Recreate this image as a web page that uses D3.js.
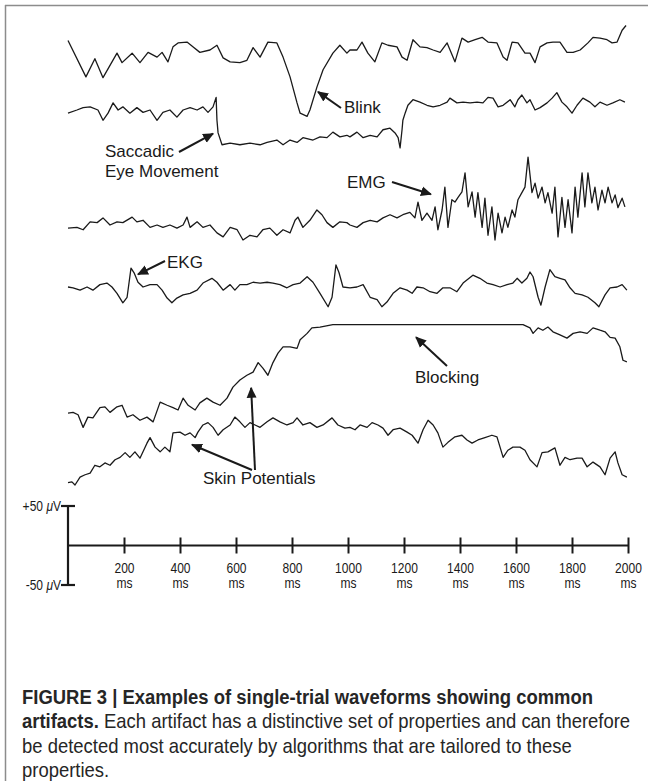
<!DOCTYPE html>
<html><head><meta charset="utf-8">
<script src="https://cdn.jsdelivr.net/npm/d3@7"></script>
<style>body{margin:0;background:#fff} svg{display:block}</style>
</head><body>
<svg id="chart" width="648" height="781"></svg>
<script>
// ---- data: [time in ms, amplitude in µV relative to each trace's own baseline] ----
const blinkTrace = [[0,12],[64,-34],[96,-11],[125,-35],[175,-4],[193,-16],[229,-4],[257,-16],[286,-3],[318,-9],[336,-3],[357,-15],[375,4],[393,9],[425,10],[446,4],[471,-3],[507,0],[532,6],[554,-10],[579,-15],[614,-16],[639,-13],[661,3],[686,-9],[714,10],[746,9],[768,-9],[793,-34],[818,-67],[829,-80],[854,-84],[864,-76],[889,-47],[911,-25],[946,-4],[971,6],[996,-4],[1007,0],[1032,0],[1050,10],[1071,-4],[1096,-15],[1121,9],[1143,6],[1175,4],[1193,-9],[1211,-13],[1232,13],[1257,4],[1282,3],[1304,0],[1329,-3],[1354,9],[1382,-15],[1407,15],[1429,10],[1454,13],[1479,16],[1500,10],[1532,9],[1554,-9],[1568,-13],[1586,10],[1607,9],[1632,-4],[1650,-4],[1668,-16],[1686,4],[1711,9],[1732,10],[1757,10],[1782,-3],[1804,-3],[1829,0],[1857,9],[1875,16],[1900,15],[1925,13],[1943,9],[1961,10],[1979,25],[1993,31]];

const saccadeTrace = [[0,-4],[32,0],[54,3],[79,4],[107,0],[125,-13],[143,-4],[161,9],[179,0],[196,4],[221,-4],[246,3],[268,-3],[293,0],[318,-13],[339,-3],[364,0],[389,-9],[411,0],[436,3],[461,0],[482,4],[500,-3],[518,4],[529,16],[532,-13],[536,-29],[550,-44],[579,-42],[614,-44],[650,-42],[686,-44],[711,-41],[746,-38],[768,-44],[793,-38],[818,-41],[839,-35],[875,-38],[900,-34],[925,-35],[946,-28],[971,-34],[996,-32],[1007,-34],[1032,-28],[1054,-35],[1079,-32],[1104,-34],[1125,-25],[1150,-23],[1168,-29],[1179,-35],[1186,-48],[1193,-25],[1196,-13],[1204,-4],[1214,6],[1232,13],[1257,10],[1282,6],[1304,4],[1329,6],[1354,10],[1364,15],[1389,9],[1411,10],[1436,9],[1461,10],[1482,9],[1500,16],[1518,15],[1536,4],[1554,6],[1579,13],[1596,4],[1607,13],[1621,19],[1639,9],[1650,13],[1668,0],[1686,3],[1711,9],[1729,15],[1746,22],[1764,10],[1782,4],[1800,-4],[1818,6],[1839,15],[1864,10],[1882,4],[1900,10],[1925,6],[1946,9],[1971,13],[1989,10]];

const emgTrace = [[0,-4],[32,-3],[54,-6],[79,4],[104,3],[125,9],[150,0],[175,4],[196,3],[229,10],[246,4],[268,6],[293,-3],[318,0],[339,-3],[364,0],[389,-4],[411,0],[425,10],[436,-3],[461,4],[482,-3],[507,0],[532,-10],[554,-15],[579,-3],[604,-6],[625,-19],[650,-13],[675,-15],[696,-6],[721,-4],[746,-13],[768,-6],[793,-10],[811,6],[821,10],[839,-3],[864,6],[889,19],[907,13],[925,3],[946,-3],[971,4],[996,3],[1007,0],[1032,-3],[1054,3],[1079,6],[1104,4],[1125,9],[1150,13],[1175,9],[1196,13],[1221,16],[1239,9],[1250,29],[1264,6],[1282,15],[1300,6],[1311,23],[1321,-6],[1336,19],[1346,48],[1357,-3],[1371,32],[1382,29],[1393,35],[1407,42],[1418,66],[1429,23],[1443,42],[1454,10],[1464,41],[1479,-3],[1489,34],[1500,-13],[1514,23],[1525,-19],[1536,15],[1550,-10],[1561,10],[1571,-3],[1586,19],[1596,10],[1607,32],[1621,41],[1632,48],[1643,86],[1657,41],[1668,53],[1679,34],[1693,48],[1704,28],[1714,41],[1729,15],[1739,48],[1750,-15],[1764,35],[1775,-3],[1786,32],[1800,-10],[1811,48],[1821,10],[1836,66],[1846,23],[1857,66],[1871,28],[1882,48],[1893,19],[1907,44],[1918,28],[1929,48],[1943,28],[1954,38],[1964,22],[1979,34],[1989,23]];

const ekgTrace = [[0,0],[18,-1],[43,-4],[68,0],[89,-4],[114,3],[139,5],[157,0],[175,-8],[196,-20],[211,-13],[225,24],[236,18],[250,6],[268,0],[293,3],[318,3],[336,-4],[354,-14],[371,-20],[389,-14],[411,-10],[436,-8],[461,-4],[482,5],[514,11],[532,6],[554,-4],[579,3],[596,-4],[614,3],[639,3],[661,6],[686,5],[711,6],[732,5],[757,3],[782,-1],[804,3],[829,5],[854,13],[875,6],[900,-8],[929,-25],[943,-13],[957,28],[968,18],[982,0],[1007,-1],[1032,0],[1054,3],[1079,-13],[1104,-16],[1121,-25],[1139,-19],[1161,-8],[1186,-1],[1211,-4],[1229,-8],[1246,0],[1268,-1],[1293,-6],[1318,-8],[1339,-1],[1364,-1],[1389,-6],[1411,5],[1446,15],[1471,11],[1496,5],[1518,3],[1543,0],[1568,3],[1589,5],[1604,11],[1621,5],[1639,11],[1650,19],[1661,13],[1679,-13],[1689,-23],[1704,0],[1721,22],[1739,13],[1757,11],[1775,9],[1793,-1],[1811,-8],[1836,-10],[1857,-13],[1882,-20],[1896,-25],[1918,-10],[1936,-1],[1961,0],[1979,3],[1996,-4]];

const blockingTrace = [[0,-23],[18,-22],[36,-25],[54,-41],[71,-28],[89,-29],[114,-16],[132,-15],[150,-22],[175,-15],[193,-13],[211,-28],[232,-25],[257,-32],[282,-28],[304,-34],[329,-9],[354,-13],[375,-16],[393,-19],[411,-4],[429,-13],[454,-19],[471,-10],[496,-4],[518,-9],[543,-13],[568,-4],[589,10],[614,19],[639,25],[661,29],[679,41],[696,34],[714,25],[732,41],[750,53],[768,61],[793,61],[818,59],[829,70],[854,78],[871,85],[900,86],[946,89],[1100,89],[1300,89],[1500,89],[1625,89],[1650,85],[1661,78],[1679,85],[1696,82],[1714,86],[1732,80],[1757,76],[1782,72],[1804,78],[1829,80],[1854,78],[1875,85],[1900,82],[1918,80],[1936,73],[1954,72],[1971,61],[1982,44],[1996,42]];

const skinTrace = [[0,-35],[14,-34],[25,-38],[43,-28],[61,-25],[79,-23],[96,-13],[114,-15],[132,-10],[150,-13],[168,-6],[186,-3],[204,3],[221,-3],[239,4],[257,-4],[282,15],[293,22],[311,10],[329,4],[346,10],[364,4],[375,28],[400,29],[418,25],[436,28],[454,22],[464,29],[482,38],[500,41],[518,35],[536,25],[554,32],[579,38],[596,48],[614,42],[632,35],[650,41],[668,38],[686,35],[711,42],[732,47],[757,42],[782,38],[804,41],[818,47],[839,38],[864,41],[889,35],[911,38],[943,47],[964,38],[989,34],[1007,35],[1025,32],[1043,38],[1068,35],[1086,41],[1107,38],[1125,34],[1143,25],[1161,32],[1186,34],[1211,29],[1229,25],[1250,15],[1268,32],[1286,44],[1304,38],[1321,28],[1339,10],[1357,16],[1382,23],[1407,25],[1425,19],[1443,15],[1464,19],[1489,22],[1514,25],[1532,23],[1554,-3],[1571,6],[1589,10],[1614,10],[1632,6],[1650,-6],[1675,-15],[1693,3],[1714,4],[1739,9],[1757,-13],[1775,-3],[1793,-6],[1818,-4],[1836,-4],[1854,-15],[1875,-9],[1900,-15],[1918,-25],[1936,-4],[1954,4],[1964,-10],[1979,-25],[1996,-28]];

const tickTimes = [200,400,600,800,1000,1200,1400,1600,1800,2000];
const tickUnit = "ms";
const calibValues = [50,-50];
const calibLabels = ["+50 ", "-50 "];

// ---- layout ----
const W = 648, H = 781;
const svg = d3.select("#chart");
const x = d3.scaleLinear().domain([0,2000]).range([68,628]);
const dv = d3.scaleLinear().domain([-50,50]).range([39.5,-39.5]); // µV -> px offset
const axisY = 545.5;
const ink = "#1a1a1a";
const traces = [
  {data: blinkTrace, base: 50},
  {data: saccadeTrace, base: 110},
  {data: emgTrace, base: 225},
  {data: ekgTrace, base: 287},
  {data: blockingTrace, base: 395},
  {data: skinTrace, base: 455}
];

// frame (top/left edges)
svg.append("line").attr("x1",5).attr("x2",W).attr("y1",5.5).attr("y2",5.5).attr("stroke","#8c8c8c").attr("stroke-width",1.5);
svg.append("line").attr("x1",5.5).attr("x2",5.5).attr("y1",5).attr("y2",H).attr("stroke","#8c8c8c").attr("stroke-width",1.5);

// traces
traces.forEach(tr => {
  const line = d3.line().x(d => x(d[0])).y(d => tr.base + dv(d[1]));
  svg.append("path").datum(tr.data).attr("d", line)
    .attr("fill","none").attr("stroke",ink).attr("stroke-width",1.3).attr("stroke-linejoin","round");
});

// arrow marker
const defs = svg.append("defs");
defs.append("marker").attr("id","ah").attr("viewBox","0 0 10 10").attr("refX",9).attr("refY",5)
  .attr("markerWidth",5.5).attr("markerHeight",5.5).attr("orient","auto-start-reverse").attr("markerUnits","strokeWidth")
  .append("path").attr("d","M0,0.5 L10,5 L0,9.5 z").attr("fill",ink);

// annotations: arrow heads anchored to (trace, time, µV); tails & labels in px
const annotations = [
  {trace:0, t:893, v:-53, tail:[341,108]},
  {trace:1, t:518, v:-30, tail:[179,152]},
  {trace:2, t:1296, v:39, tail:[392,182]},
  {trace:3, t:250, v:16, tail:[165,261]},
  {trace:4, t:1243, v:73, tail:[447,366]},
  {trace:4, t:654, v:9, tail:[255,470]},
  {trace:5, t:443, v:13, tail:[252,470]}
];
const labels = [
  {s:"Blink", x:344, y:113},
  {s:"Saccadic", x:105, y:157},
  {s:"Eye Movement", x:105, y:177},
  {s:"EMG", x:347, y:188},
  {s:"EKG", x:167, y:268},
  {s:"Blocking", x:415, y:383},
  {s:"Skin Potentials", x:203, y:484}
];
const fontLab = "'Liberation Sans', Arial, Helvetica, sans-serif";
annotations.forEach(a => {
  const hx = x(a.t), hy = traces[a.trace].base + dv(a.v);
  svg.append("line").attr("x1",a.tail[0]).attr("y1",a.tail[1]).attr("x2",hx).attr("y2",hy)
    .attr("stroke",ink).attr("stroke-width",2).attr("marker-end","url(#ah)");
});
labels.forEach(l => svg.append("text").attr("x",l.x).attr("y",l.y).text(l.s)
  .attr("font-family",fontLab).attr("font-size",17).attr("fill",ink));

// time axis
const axis = d3.axisBottom(x).tickValues(tickTimes).tickSizeOuter(0).tickSizeInner(8).tickFormat(d => d);
const gAx = svg.append("g").attr("transform",`translate(0,${axisY})`).call(axis);
gAx.select(".domain").attr("stroke",ink).attr("stroke-width",2.2).attr("d",`M${x(0)},0H${x(2000)}`);
gAx.selectAll(".tick line").attr("y1",-8).attr("y2",8).attr("stroke",ink).attr("stroke-width",2);
gAx.selectAll(".tick text").each(function(d){
  const t = d3.select(this).attr("y",null).attr("dy",null).text("");
  t.append("tspan").attr("x",0).attr("y",27.5).text(d);
  t.append("tspan").attr("x",0).attr("y",43).text(tickUnit);
}).attr("transform","scale(0.86,1)")
  .attr("font-family",fontLab).attr("font-size",14).attr("fill",ink);

// calibration bar
const cal = svg.append("g");
cal.append("line").attr("x1",x(0)).attr("x2",x(0)).attr("y1",axisY+dv(50)).attr("y2",axisY+dv(-50))
  .attr("stroke",ink).attr("stroke-width",2.2);
calibValues.forEach((v,i) => {
  cal.append("line").attr("x1",x(0)-7).attr("x2",x(0)+7).attr("y1",axisY+dv(v)).attr("y2",axisY+dv(v))
    .attr("stroke",ink).attr("stroke-width",2.2);
  const tx = cal.append("text").attr("x",0).attr("y",0).attr("text-anchor","end")
    .attr("transform",`translate(61,${axisY+dv(v)+5}) scale(0.86,1)`)
    .attr("font-family",fontLab).attr("font-size",14).attr("fill",ink);
  tx.append("tspan").text(calibLabels[i]);
  tx.append("tspan").attr("font-style","italic").text("\u03bc");
  tx.append("tspan").text("V");
});

// caption (condensed face emulated with a horizontal scale)
const cs = 0.9;
const capLines = [
  {y:704, parts:[{b:true, s:"FIGURE 3 | Examples of single-trial waveforms showing common"}]},
  {y:728, parts:[{b:true, s:"artifacts."},{b:false, s:" Each artifact has a distinctive set of properties and can therefore"}]},
  {y:753, parts:[{b:false, s:"be detected most accurately by algorithms that are tailored to these"}]},
  {y:777, parts:[{b:false, s:"properties."}]}
];
capLines.forEach(c => {
  const t = svg.append("text").attr("x",0).attr("y",0)
    .attr("transform",`translate(22,${c.y}) scale(${cs},1)`)
    .attr("font-family",fontLab).attr("font-size",20.5).attr("fill","#262626");
  c.parts.forEach(p => t.append("tspan").attr("font-weight",p.b?"bold":"normal").text(p.s));
});
</script>
</body></html>
